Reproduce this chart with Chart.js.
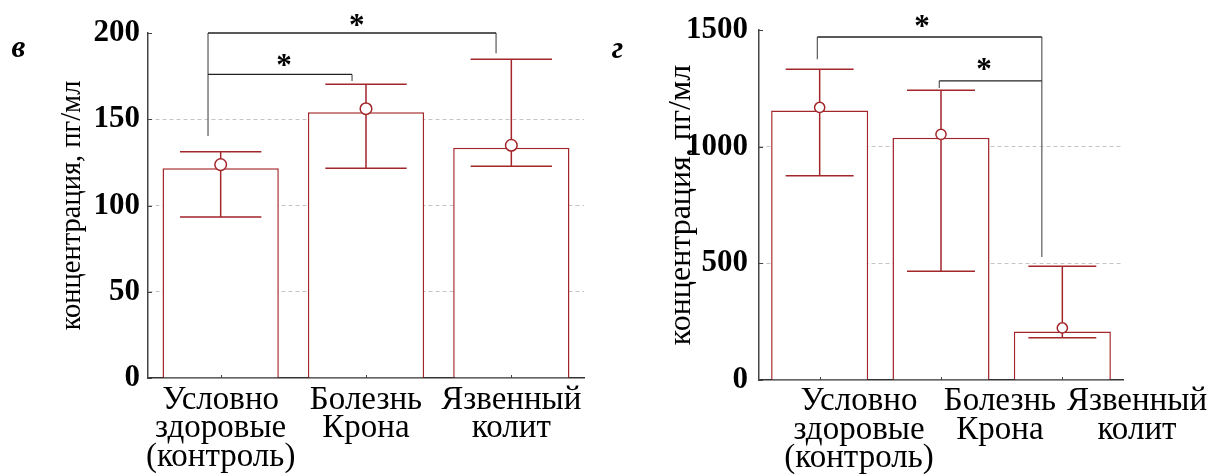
<!DOCTYPE html>
<html><head><meta charset="utf-8">
<script src="https://cdn.jsdelivr.net/npm/chart.js@4"></script>
<style>
html,body{margin:0;padding:0;background:#fff;overflow:hidden;width:1216px;height:476px}
#c1{position:absolute;left:0;top:0;width:600px;height:476px}
#c2{position:absolute;left:600px;top:0;width:616px;height:476px}
</style></head>
<body>
<canvas id="c1" width="600" height="476"></canvas>
<canvas id="c2" width="616" height="476"></canvas>
<script>
// ---- data ----
const categories = [['Условно','здоровые','(контроль)'], ['Болезнь','Крона'], ['Язвенный','колит']];
const yTitle = 'концентрация, пг/мл';

// panel "в"
const barsV  = [121.6, 154.0, 133.5];
const meansV = [123.7, 156.1, 134.9];
const upperV = [131.2, 170.3, 184.8];
const lowerV = [93.3, 121.6, 122.7];
const ticksV = [0, 50, 100, 150, 200];

// panel "г"
const barsG  = [1155, 1038, 208];
const meansG = [1168, 1053, 223];
const upperG = [1332, 1242, 488];
const lowerG = [875, 466, 181];
const ticksG = [0, 500, 1000, 1500];

// significance brackets (category index, value units)
const bracketsV = [
  {x1: -0.087, x2: 1.895, y: 200, y1end: 140.3, y2end: 188.2},
  {x1: -0.087, x2: 0.904, y: 176, y1end: 176,   y2end: 172.2}
];
const starsV = [{x: 0.936, y: 207.5}, {x: 0.436, y: 184.3}];
const bracketsG = [
  {x1: -0.019, x2: 1.831, y: 1470, y1end: 1375, y2end: 527},
  {x1: 0.986,  x2: 1.831, y: 1282, y1end: 1251, y2end: 1282}
];
const starsG = [{x: 0.844, y: 1538}, {x: 1.355, y: 1355}];

// ---- styling ----
const RED = '#a3262a';
const SERIF = "'Liberation Serif', 'Times New Roman', serif";
const XFONT = 33, XLINE = 28.5;

function panelPlugin(p) {
  return {
    id: 'panel' + p.key,
    afterDatasetDraw(chart, args) {
      if (args.index !== 0) return;
      const ctx = chart.ctx, xs = chart.scales.x, ys = chart.scales.y;
      const meta = chart.getDatasetMeta(0);
      ctx.save();
      ctx.strokeStyle = RED; ctx.lineWidth = 1.5;
      p.upper.forEach((u, i) => {
        const cx = xs.getPixelForValue(i);
        const hw = meta.data[i].width * 0.35;
        const yu = ys.getPixelForValue(u), yl = ys.getPixelForValue(p.lower[i]);
        ctx.beginPath();
        ctx.moveTo(cx, yu); ctx.lineTo(cx, yl);
        ctx.moveTo(cx - hw, yu); ctx.lineTo(cx + hw, yu);
        ctx.moveTo(cx - hw, yl); ctx.lineTo(cx + hw, yl);
        ctx.stroke();
      });
      ctx.restore();
    },
    afterDraw(chart) {
      const ctx = chart.ctx, xs = chart.scales.x, ys = chart.scales.y;
      const a = chart.chartArea;
      ctx.save();
      // inward tick marks
      ctx.strokeStyle = '#444'; ctx.lineWidth = 1;
      ctx.beginPath();
      p.ticks.forEach(t => {
        const yy = Math.round(ys.getPixelForValue(t)) + 0.5;
        ctx.moveTo(a.left, yy); ctx.lineTo(a.left + 4, yy);
      });
      categories.forEach((c, i) => {
        const xx = Math.round(xs.getPixelForValue(i)) + 0.5;
        ctx.moveTo(xx, a.bottom); ctx.lineTo(xx, a.bottom - 3);
      });
      ctx.stroke();
      // brackets
      ctx.lineWidth = 1.3;
      p.brackets.forEach(b => {
        const x1 = xs.getPixelForValue(b.x1), x2 = xs.getPixelForValue(b.x2);
        const y = ys.getPixelForValue(b.y);
        ctx.strokeStyle = '#666';
        ctx.beginPath();
        ctx.moveTo(x1, y); ctx.lineTo(x1, ys.getPixelForValue(b.y1end));
        ctx.moveTo(x2, y); ctx.lineTo(x2, ys.getPixelForValue(b.y2end));
        ctx.stroke();
        ctx.strokeStyle = '#222';
        ctx.beginPath();
        ctx.moveTo(x1, y); ctx.lineTo(x2, y);
        ctx.stroke();
      });
      ctx.fillStyle = '#000';
      // manually placed category labels (right panel, offset from bars)
      if (p.labelX) {
        ctx.font = XFONT + 'px ' + SERIF;
        ctx.textAlign = 'center'; ctx.textBaseline = 'alphabetic';
        categories.forEach((lines, i) => {
          lines.forEach((t, j) => ctx.fillText(t, p.labelX[i], p.labelBase + j * XLINE));
        });
      }
      // stars
      ctx.font = 'bold 31px ' + SERIF;
      ctx.textAlign = 'center'; ctx.textBaseline = 'alphabetic';
      p.stars.forEach(s => {
        ctx.fillText('*', xs.getPixelForValue(s.x), ys.getPixelForValue(s.y) + 15);
      });
      // panel letter
      ctx.font = 'italic bold 31px ' + SERIF;
      ctx.fillText(p.letter, p.letterX, p.letterY);
      ctx.restore();
    }
  };
}

function makeChart(id, p) {
  return new Chart(document.getElementById(id), {
    data: {
      labels: categories,
      datasets: [
        {type: 'bar', data: p.bars, backgroundColor: '#fff', borderColor: RED, borderWidth: 1.5,
         barPercentage: 0.8, categoryPercentage: 1.0, order: 1},
        {type: 'line', data: p.means, showLine: false, pointRadius: p.r, pointBorderWidth: 1.5,
         pointBackgroundColor: '#fff', pointBorderColor: RED, order: 0}
      ]
    },
    options: {
      responsive: false, animation: false, events: [],
      layout: {padding: {left: 0, top: p.top, right: p.right, bottom: 0}},
      plugins: {legend: {display: false}, tooltip: {enabled: false}},
      scales: {
        x: {
          offset: true,
          grid: {display: false, drawTicks: false},
          border: {display: true, color: '#333', width: 1.5},
          ticks: {display: !p.labelX, color: '#000', padding: p.xpad, maxRotation: 0, autoSkip: false,
                  font: {family: SERIF, size: XFONT, lineHeight: XLINE + 'px'}},
          afterFit: s => { s.height = p.xh; }
        },
        y: {
          min: 0, max: p.ticks[p.ticks.length - 1],
          afterBuildTicks: s => { s.ticks = p.ticks.map(v => ({value: v})); },
          grid: {drawTicks: false, lineWidth: 1,
                 color: c => (c.tick && (c.tick.value === 0 || c.tick.value === p.ticks[p.ticks.length - 1])) ? 'rgba(0,0,0,0)' : '#c4c4c4'},
          border: {display: true, color: '#444', width: 1.5, dash: [4, 3]},
          ticks: {color: '#000', padding: p.ypad, font: {family: SERIF, size: 31, weight: 'bold'},
                  callback: v => String(v)},
          title: {display: true, text: yTitle, color: '#000',
                  font: {family: SERIF, size: p.tsize}, padding: {top: p.tpad, bottom: 0}},
          afterFit: s => { s.width = p.yw; }
        }
      }
    },
    plugins: [panelPlugin(p)]
  });
}

makeChart('c1', {key: 'V', bars: barsV, means: meansV, upper: upperV, lower: lowerV, ticks: ticksV,
  brackets: bracketsV, stars: starsV, letter: 'в', letterX: 18.5, letterY: 57, r: 5.8,
  top: 33, right: 16, xh: 98, yw: 148, xpad: 8, ypad: 8, tsize: 28.5, tpad: 55});
makeChart('c2', {key: 'G', bars: barsG, means: meansG, upper: upperG, lower: lowerG, ticks: ticksG,
  brackets: bracketsG, stars: starsG, letter: 'г', letterX: 17.5, letterY: 58, r: 5.1,
  labelX: [259, 400, 537], labelBase: 410,
  top: 30, right: 93, xh: 96, yw: 159, xpad: 5, ypad: 11, tsize: 32, tpad: 62});
</script>
</body></html>
